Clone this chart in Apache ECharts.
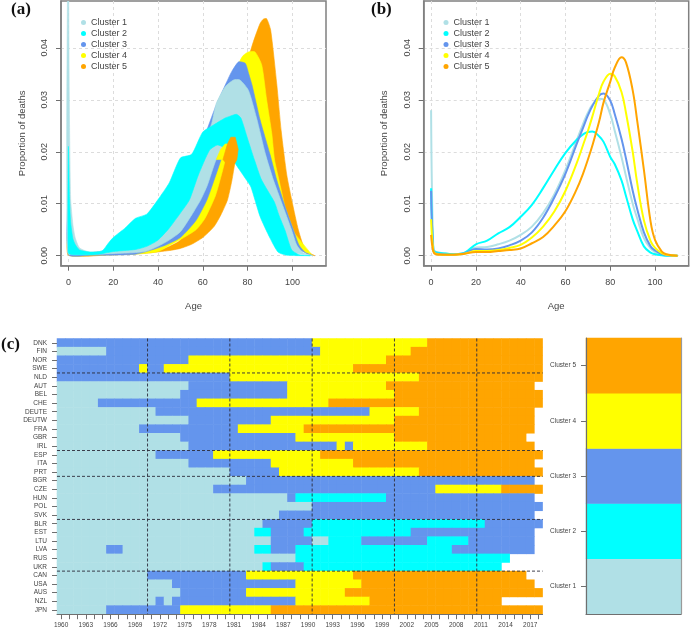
<!DOCTYPE html>
<html><head><meta charset="utf-8">
<style>html,body{margin:0;padding:0;background:#fff}#c{width:690px;height:633px}</style>
<script src="https://cdn.jsdelivr.net/npm/echarts@6/dist/echarts.min.js"></script>
</head><body><div id="c"></div>
<script>
const clusterNames=['Cluster 1','Cluster 2','Cluster 3','Cluster 4','Cluster 5'];
const clusterColors=['#B0E0E6','#00FFFF','#6495ED','#FFFF00','#FFA500'];
const ageTicks=[0,20,40,60,80,100];
const propTicks=[0,0.01,0.02,0.03,0.04];

// Panel (a): outer envelope of each cluster's curves as [age, proportion]
const c1Upper=[[0,.06],[0.4,.03],[1,.011],[2,.006],[3,.0035],[5,.0015],[10,.0007],[30,.002],[50,.010],[60,.021],[64,.0255],[66,.0293],[70,.0325],[73.7,.0338],[76.6,.0338],[80.4,.0318],[84,.0265],[88,.0195],[91.5,.0146],[95.3,.0101],[99.7,.0049],[102,.002],[105,.0005],[109,0]];
const c1Lower=[[-0.3,.06],[-0.3,.0005],[5,.0002],[20,.0004],[30,.0006],[35,.0009],[40,.0018],[45,.003],[50,.0046],[55,.0078],[59,.0107],[62,.0135],[66,.0185],[70,.021],[75,.021],[80,.018],[85,.012],[90,.0065],[95,.003],[100,.0007],[109,0]];
const c2Upper=[[0,.021],[0.5,.011],[1,.0065],[2,.0033],[3,.0022],[5,.0011],[10,.0007],[15,.0009],[18,.0025],[20,.0035],[22,.0042],[25,.0052],[30,.0072],[35,.0080],[40,.0108],[45,.0140],[50,.0188],[55,.0195],[60,.0238],[65,.0252],[70,.0265],[72,.0268],[75,.0272],[77,.0265],[80,.0225],[83,.0185],[86,.0148],[89,.0125],[92,.0103],[94,.0078],[96.7,.0049],[99.7,.0011],[103,.0002],[108,0]];
const c2Lower=[[0,.0005],[2,.0002],[10,.0002],[15,.0004],[20,.0008],[25,.001],[30,.0012],[35,.0018],[40,.003],[45,.0053],[50,.0082],[54,.0107],[58,.0155],[63,.0203],[66.4,.0213],[69,.0209],[72,.0195],[74.4,.0178],[79.6,.0145],[81.5,.0132],[85.6,.0075],[90,.0034],[93.6,.0007],[97.5,.0001],[108,0]];
const c3Upper=[[0,.012],[1,.001],[5,.0003],[20,.0012],[40,.002],[50,.010],[60,.022],[66,.029],[71.4,.0341],[73,.0355],[76,.0373],[79,.037],[80.5,.035],[82,.0328],[85.6,.0261],[90,.0195],[93,.0146],[96.7,.0095],[100.5,.0049],[103,.002],[106,.0005],[109,0]];
const c3Lower=[[0,.0002],[10,.0001],[30,.0003],[42,.0018],[50,.0035],[57,.0068],[61.8,.0107],[65,.0145],[68.5,.019],[72,.025],[80,.025],[90,.012],[100,.002],[109,0]];
const c4Upper=[[0,.007],[1,.001],[5,.0002],[20,.0008],[40,.0015],[50,.005],[60,.015],[70,.028],[75,.0355],[76.6,.0375],[78,.0385],[80.4,.0392],[83.3,.0392],[86.3,.0367],[88.5,.03],[90.8,.0235],[92,.0185],[94,.0146],[96.7,.0095],[100.5,.0049],[103,.002],[106,.0005],[109,0]];
const c4Lower=[[0,.0002],[10,.0001],[30,.0003],[40,.0008],[47,.0024],[50,.0031],[57,.005],[61,.0072],[65.6,.0115],[68.6,.016],[71,.020],[75,.025],[85,.022],[95,.008],[109,0]];
const c5Upper=[[0,.004],[1,.0008],[5,.0002],[20,.0006],[40,.001],[50,.003],[60,.01],[70,.02],[75,.028],[80.4,.038],[82.6,.0412],[85.6,.0447],[87,.0455],[88.5,.0456],[90.3,.0434],[93,.0331],[95,.024],[97.5,.0155],[100,.0101],[102.7,.0049],[105.7,.0011],[109.4,.0001],[110,0]];
const c5Lower=[[0,.0001],[20,.0002],[35,.0005],[45,.001],[50,.0014],[55,.0022],[60,.0035],[65,.0056],[68,.0078],[71,.0107],[73,.0145],[74.4,.018],[75.5,.0195],[80,.02],[90,.012],[100,.002],[110,0]];
// Early low-peak curves of clusters 4 and 5, which lie over cluster 2
const c4TipUpper=[[66,.0185],[68,.0205],[70,.0215],[71,.0215]];
const c4TipLower=[[66,.0185],[69,.0185],[71,.0215]];
const c5TipUpper=[[69,.0185],[71,.0215],[72.5,.0228],[74.5,.0228],[75.8,.0205],[75.2,.0185]];
const c5TipLower=[[69,.0185],[72,.017],[74.4,.0178],[75.2,.0185]];

// Panel (b): mean curves
const meanAges=[0,1,2,5,10,15,20,25,30,35,40,45,50,55,60,65,68,70,72,75,77,80,82,85,87,90,92,95,98,100,103,105,110];
const mean1=[.028,.0012,.0008,.0005,.0003,.0006,.0016,.0017,.0022,.0029,.0040,.0056,.0082,.0118,.0165,.0222,.0255,.0275,.0290,.0302,.0300,.0272,.0240,.0190,.0153,.0100,.0072,.0034,.0014,.0007,.0002,.0001,0];
const mean2=[.013,.0012,.0007,.0005,.0003,.0006,.0022,.0029,.0043,.0055,.0075,.0098,.0130,.0165,.0198,.0223,.0234,.0238,.0239,.0230,.0219,.0190,.0176,.0145,.0115,.0070,.0048,.0018,.0006,.0003,.0001,0,0];
const mean3=[.0125,.001,.0005,.0003,.0002,.0005,.0013,.0012,.0014,.0020,.0029,.0045,.0073,.0112,.0158,.0215,.0248,.0270,.0288,.0308,.0312,.0298,.0272,.0225,.0187,.0125,.0090,.0045,.0018,.0010,.0003,.0001,0];
const mean4=[.007,.001,.0004,.0002,.0002,.0004,.0009,.0009,.0011,.0015,.0021,.0035,.0056,.0085,.0125,.0178,.0215,.0240,.0268,.0312,.0335,.0350,.0345,.0315,.0275,.0200,.0140,.0068,.0028,.0015,.0005,.0002,0];
const mean5=[.004,.0008,.0003,.0002,.0002,.0004,.0007,.0007,.0009,.0011,.0014,.0024,.0036,.0058,.0086,.0128,.0160,.0185,.0212,.0258,.0295,.0335,.0362,.0382,.0372,.0318,.0260,.0165,.0065,.0030,.0008,.0003,0];

// Panel (c)
const years=[1960,1961,1962,1963,1964,1965,1966,1967,1968,1969,1970,1971,1972,1973,1974,1975,1976,1977,1978,1979,1980,1981,1982,1983,1984,1985,1986,1987,1988,1989,1990,1991,1992,1993,1994,1995,1996,1997,1998,1999,2000,2001,2002,2003,2004,2005,2006,2007,2008,2009,2010,2011,2012,2013,2014,2015,2016,2017,2018];
const countries=['DNK','FIN','NOR','SWE','NLD','AUT','BEL','CHE','DEUTE','DEUTW','FRA','GBR','IRL','ESP','ITA','PRT','BGR','CZE','HUN','POL','SVK','BLR','EST','LTU','LVA','RUS','UKR','CAN','USA','AUS','NZL','JPN'];
// year, cluster from that year, year, cluster, ..., first year without data
const memberships=[
[1960,3,1991,4,2005,5,2019],
[1960,1,1966,3,1992,4,2003,5,2019],
[1960,3,1976,4,2000,5,2019],
[1960,3,1970,4,1971,3,1973,4,1996,5,2019],
[1960,3,1981,4,2004,5,2019],
[1960,1,1976,3,1988,4,2000,5,2018],
[1960,1,1975,3,1988,4,2001,5,2019],
[1960,1,1965,3,1977,4,1993,5,2019],
[1960,1,1972,3,1998,4,2004,5,2018],
[1960,1,1976,3,1986,4,2001,5,2018],
[1960,1,1970,3,1982,4,1990,5,2018],
[1960,1,1975,3,1989,4,2001,5,2017],
[1960,1,1976,3,1994,4,1995,3,1996,4,2005,5,2018],
[1960,1,1972,3,1979,4,1992,5,2019],
[1960,1,1976,3,1986,4,1996,5,2018],
[1960,1,1981,3,1987,4,2004,5,2019],
[1960,1,1983,3,2018],
[1960,1,1979,3,2006,4,2014,5,2019],
[1960,1,1988,3,1989,2,2000,3,2018],
[1960,1,1991,3,2019],
[1960,1,1987,3,2018],
[1960,1,1985,3,1991,2,2012,3,2019],
[1960,1,1984,2,1986,3,1990,2,2003,3,2018],
[1960,1,1986,3,1991,1,1993,2,1997,3,2005,2,2010,3,2018],
[1960,1,1966,3,1968,1,1984,2,1986,3,1989,2,2008,3,2018],
[1960,1,1989,2,2015],
[1960,1,1985,2,1986,3,1990,2,2014],
[1960,1,1971,3,1983,4,1996,5,2017],
[1960,1,1974,3,1989,4,1997,5,2018],
[1960,1,1975,3,1983,4,1995,5,2019],
[1960,1,1972,3,1973,1,1974,3,1989,4,1998,5,2014],
[1960,1,1966,3,1975,4,1986,5,2019]];
const yearGuides=[1970.5,1980.5,1990.5,2000.5,2010.5];
const regionGuides=[4,13,16,21,27];

const SANS='"Liberation Sans",Arial,sans-serif', TXT='#444', AX='#6f6f6f';
const heatData=[];
memberships.forEach((runs,row)=>{
  for(let i=0;i+2<runs.length;i+=2){
    for(let y=runs[i];y<runs[i+2];y++) heatData.push([years.indexOf(y),row,runs[i+1]]);
  }
});
function band(name,color,upper,lower,panel,smooth){
  const pts=upper.concat(lower.slice().reverse());
  return {type:'custom',name,coordinateSystem:'cartesian2d',xAxisIndex:panel,yAxisIndex:panel,clip:true,silent:true,
    data:pts,encode:{x:0,y:1},itemStyle:{color},
    renderItem(params,api){
      if(params.dataIndex!==0) return null;
      return {type:'polygon',shape:{points:pts.map(p=>api.coord(p)),smooth:smooth},style:{fill:color,stroke:color,lineWidth:.6}};
    }};
}
function meanLine(i,values){
  return {type:'line',name:clusterNames[i],xAxisIndex:1,yAxisIndex:1,showSymbol:false,symbol:'none',smooth:.4,
    data:meanAges.map((a,k)=>[a,values[k]]),lineStyle:{color:clusterColors[i],width:2},itemStyle:{color:clusterColors[i]},z:3+i};
}
function valueAxes(idx,grid){
  return [
   {type:'value',gridIndex:grid,min:-3.3,max:115,splitNumber:6,position:'bottom',name:'Age',nameLocation:'middle',nameGap:36,
    nameTextStyle:{fontFamily:SANS,fontSize:9.5,color:TXT},axisLine:{show:true,onZero:false,lineStyle:{color:'#808080',width:1.5}},
    axisTick:{show:true,length:5,customValues:ageTicks,lineStyle:{color:AX}},
    axisLabel:{customValues:ageTicks,margin:12,fontFamily:SANS,fontSize:9,color:TXT},
    splitLine:{show:true,lineStyle:{color:'#dcdcdc',type:[3,3],width:1}}},
   {type:'value',gridIndex:grid,min:-0.00192,max:0.049,splitNumber:5,position:'left',name:'Proportion of deaths',nameLocation:'middle',nameGap:34,
    nameTextStyle:{fontFamily:SANS,fontSize:9.5,color:TXT},axisLine:{show:true,onZero:false,lineStyle:{color:'#808080',width:1.5}},
    axisTick:{show:true,length:5,customValues:propTicks,lineStyle:{color:AX}},
    axisLabel:{customValues:propTicks,rotate:90,margin:12,fontFamily:SANS,fontSize:9,color:TXT,formatter:v=>v.toFixed(2)},
    splitLine:{show:true,lineStyle:{color:'#dcdcdc',type:[3,3],width:1}}}];
}
const [ax0,ay0]=valueAxes(0,0),[ax1,ay1]=valueAxes(1,1);
function legend(left){
  return {show:true,left,top:17,padding:0,orient:'vertical',itemWidth:5,itemHeight:5,itemGap:0,selectedMode:false,
    textStyle:{fontFamily:SANS,fontSize:9,color:TXT,lineHeight:11,height:11},
    data:clusterNames.map((n,i)=>({name:n,icon:'circle',itemStyle:{color:clusterColors[i]}}))};
}
const guideV=[];yearGuides.forEach(x=>guideV.push([x,0],[x,32],['-','-']));
const guideH=[];regionGuides.forEach(y=>guideH.push([1959.5,y],[2018.5,y],['-','-']));
const guideLine={color:'#2b2b3a',width:.9,type:[3,2]};
const labelTxt=(text,x,y)=>({type:'text',left:x,top:y,style:{text,font:'bold 17px "Liberation Serif",serif',fill:'#111'}});

const heatSeriesIndex=14, barSeriesIndex=15;
const option={
  animation:false,backgroundColor:'#fff',
  graphic:[labelTxt('(a)',11,1),labelTxt('(b)',371,1),labelTxt('(c)',1,336)],
  legend:[legend(81),legend(443.5)],
  grid:[
    {left:61,top:1,width:265,height:264.7,show:true,borderColor:'#808080',borderWidth:1.5,containLabel:false},
    {left:423.7,top:1,width:265,height:264.7,show:true,borderColor:'#808080',borderWidth:1.5},
    {left:57,top:338.5,width:485.6,height:275.7},
    {left:586,top:338,width:95,height:276}
  ],
  xAxis:[ax0,ax1,
    {type:'category',gridIndex:2,data:years,position:'bottom',axisLine:{show:true,onZero:false,lineStyle:{color:AX}},
      axisTick:{show:true,alignWithLabel:true,interval:0,length:5,lineStyle:{color:AX}},
      axisLabel:{show:true,interval:2,margin:8,fontFamily:SANS,fontSize:6.5,color:TXT,hideOverlap:false},splitLine:{show:false},z:6},
    {type:'value',gridIndex:2,min:1959.5,max:2018.5,show:false},
    {type:'category',gridIndex:3,data:[''],position:'bottom',axisLine:{show:true,onZero:false,lineStyle:{color:AX,width:1.2}},axisTick:{show:false},axisLabel:{show:false},z:6}
  ],
  yAxis:[ay0,ay1,
    {type:'category',gridIndex:2,data:countries,inverse:true,position:'left',axisLine:{show:false,onZero:false},
      axisTick:{show:true,alignWithLabel:true,interval:0,length:5,lineStyle:{color:AX}},
      axisLabel:{interval:0,margin:10,fontFamily:SANS,fontSize:6.5,color:TXT},splitLine:{show:false},z:6},
    {type:'value',gridIndex:2,min:0,max:32,inverse:true,show:false},
    {type:'category',gridIndex:3,data:clusterNames,position:'left',axisLine:{show:true,onZero:false,lineStyle:{color:AX,width:1.2}},
      axisTick:{show:true,alignWithLabel:true,length:5,lineStyle:{color:AX}},
      axisLabel:{margin:10,fontFamily:SANS,fontSize:6.5,color:TXT},z:6},
    {type:'category',gridIndex:3,data:clusterNames,position:'right',axisLine:{show:true,onZero:false,lineStyle:{color:'#9a9a9a',width:1.2}},
      axisTick:{show:false},axisLabel:{show:false},z:6}
  ],
  visualMap:[{type:'piecewise',show:false,dimension:2,seriesIndex:[heatSeriesIndex,barSeriesIndex],
    pieces:clusterColors.map((c,i)=>({value:i+1,color:c}))}],
  series:[
    band(clusterNames[4],clusterColors[4],c5Upper,c5Lower,0,0.2),
    band(clusterNames[3],clusterColors[3],c4Upper,c4Lower,0,0.2),
    band(clusterNames[2],clusterColors[2],c3Upper,c3Lower,0,0.2),
    band(clusterNames[0],clusterColors[0],c1Upper,c1Lower,0,0.2),
    band(clusterNames[1],clusterColors[1],c2Upper,c2Lower,0,0.2),
    band(clusterNames[3],clusterColors[3],c4TipUpper,c4TipLower,0,0),
    band(clusterNames[4],clusterColors[4],c5TipUpper,c5TipLower,0,0),
    meanLine(0,mean1),meanLine(1,mean2),meanLine(2,mean3),meanLine(3,mean4),meanLine(4,mean5),
    {type:'line',name:'period guides',xAxisIndex:3,yAxisIndex:3,showSymbol:false,symbol:'none',data:guideV,lineStyle:guideLine,connectNulls:false,z:8,silent:true},
    {type:'line',name:'region guides',xAxisIndex:3,yAxisIndex:3,showSymbol:false,symbol:'none',data:guideH,lineStyle:guideLine,connectNulls:false,z:8,silent:true},
    {type:'heatmap',name:'membership',xAxisIndex:2,yAxisIndex:2,data:heatData,silent:true,z:2,progressive:0},
    {type:'heatmap',name:'scale',xAxisIndex:4,yAxisIndex:4,data:clusterNames.map((n,i)=>[0,i,i+1]),silent:true,z:2,progressive:0}
  ]
};
echarts.init(document.getElementById('c'),null,{renderer:'canvas'}).setOption(option);
</script></body></html>
